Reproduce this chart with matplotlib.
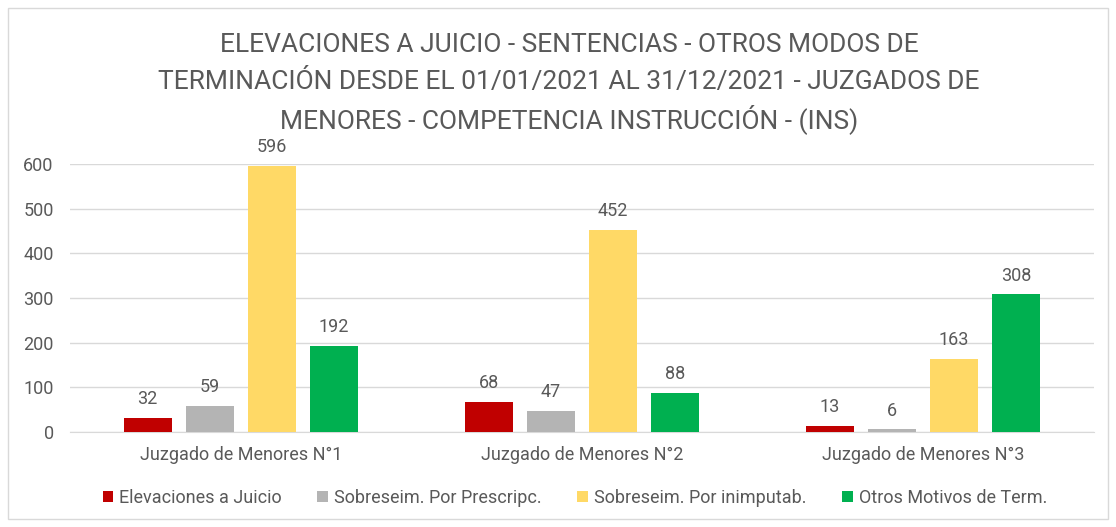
import matplotlib
matplotlib.use("Agg")
import matplotlib.pyplot as plt
import numpy as np
from matplotlib.patches import Rectangle

plt.rcParams['font.family'] = ['Roboto', 'DejaVu Sans']

juzgados = ["Juzgado de Menores N°1", "Juzgado de Menores N°2", "Juzgado de Menores N°3"]
series = ["Elevaciones a Juicio", "Sobreseim. Por Prescripc.",
          "Sobreseim. Por inimputab.", "Otros Motivos de Term."]
elevaciones = [32, 68, 13]
prescripc = [59, 47, 6]
inimputab = [596, 452, 163]
otros = [192, 88, 308]
colores = ["#C00000", "#B4B4B4", "#FFD966", "#00B050"]
titulo = ["ELEVACIONES A JUICIO - SENTENCIAS - OTROS MODOS DE",
          "TERMINACIÓN DESDE EL 01/01/2021 AL 31/12/2021 - JUZGADOS DE",
          "MENORES - COMPETENCIA INSTRUCCIÓN - (INS)"]

txt = "#595959"

fig = plt.figure(figsize=(11.16, 5.27), dpi=100)
fig.patches.append(Rectangle((0.007, 0.015), 0.986, 0.97, transform=fig.transFigure,
                             fill=False, edgecolor="#D9D9D9", linewidth=1))
ax = fig.add_axes([0.063, 0.180, 0.917, 0.509])

x = np.arange(len(juzgados))
w = 0.141
step = 0.182
valores = [elevaciones, prescripc, inimputab, otros]
for i, (nombre, vals, c) in enumerate(zip(series, valores, colores)):
    pos = x + (i - 1.5) * step
    bars = ax.bar(pos, vals, w, color=c, label=nombre, zorder=3)
    for b, v in zip(bars, vals):
        ax.text(b.get_x() + b.get_width() / 2, v + 22, str(v), ha="center", va="bottom",
                fontsize=13, color=txt)

ax.set_xlim(-0.5, 2.5)
ax.set_ylim(0, 600)
ax.set_yticks(range(0, 601, 100))
ax.set_xticks(x)
ax.set_xticklabels(juzgados)
ax.grid(axis="y", color="#D9D9D9", linewidth=1, zorder=0)
for s in ["top", "right", "left"]:
    ax.spines[s].set_visible(False)
ax.spines["bottom"].set_color("#D9D9D9")
ax.tick_params(axis="both", length=0, labelsize=13, colors=txt)
ax.tick_params(axis="x", pad=10)
ax.tick_params(axis="y", pad=12)

# title lines placed one by one so the accents don't shift spacing
for k, linea in enumerate(titulo):
    fig.text(0.51, 1 - (45 + 37 * k) / 527, linea, ha="center", va="center",
             fontsize=19, color=txt)

fig.legend(loc="center", bbox_to_anchor=(0.515, 0.055), ncol=4, frameon=False,
           fontsize=13, labelcolor=txt, handlelength=0.6, handleheight=0.6,
           handletextpad=0.3, columnspacing=2.0)

fig.savefig("out.png", dpi=100)
